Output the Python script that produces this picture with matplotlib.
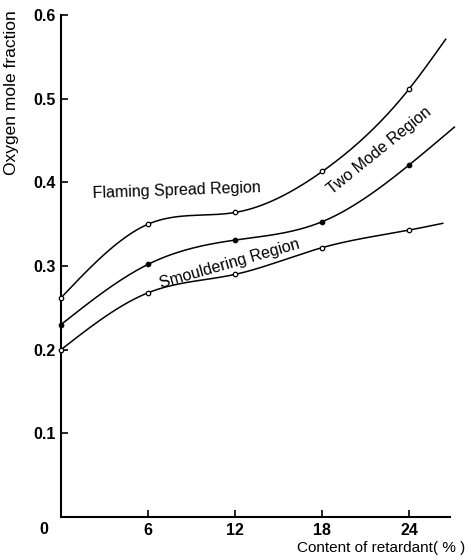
import numpy as np
import matplotlib
matplotlib.use("Agg")
import matplotlib.pyplot as plt

plt.rcParams['font.family'] = ['Liberation Sans', 'DejaVu Sans']

# content of retardant (%) and oxygen mole fraction
x_pts = [0, 6, 12, 18, 24]
flaming = [0.262, 0.350, 0.364, 0.413, 0.512]
two_mode = [0.230, 0.302, 0.331, 0.353, 0.421]
smoulder = [0.200, 0.268, 0.290, 0.322, 0.343]
# where each drawn curve stops on the right
flaming_end = (26.5, 0.571)
two_mode_end = (27.1, 0.466)
smoulder_end = (26.3, 0.351)

x_ticks = [6, 12, 18, 24]
y_ticks = [0.1, 0.2, 0.3, 0.4, 0.5, 0.6]


def spline(xs, ys, n=200):
    # natural cubic spline, only for drawing a smooth line through the points
    xs = np.asarray(xs, float)
    ys = np.asarray(ys, float)
    k = len(xs)
    h = np.diff(xs)
    A = np.zeros((k, k))
    r = np.zeros(k)
    A[0, 0] = A[-1, -1] = 1
    for i in range(1, k - 1):
        A[i, i - 1] = h[i - 1]
        A[i, i] = 2 * (h[i - 1] + h[i])
        A[i, i + 1] = h[i]
        r[i] = 3 * ((ys[i + 1] - ys[i]) / h[i] - (ys[i] - ys[i - 1]) / h[i - 1])
    c = np.linalg.solve(A, r)
    xx = np.linspace(xs[0], xs[-1], n)
    idx = np.clip(np.searchsorted(xs, xx) - 1, 0, k - 2)
    d = xx - xs[idx]
    b = (ys[1:] - ys[:-1]) / h - h * (2 * c[:-1] + c[1:]) / 3
    dd = (c[1:] - c[:-1]) / (3 * h)
    yy = ys[idx] + b[idx] * d + c[idx] * d ** 2 + dd[idx] * d ** 3
    return xx, yy


fig = plt.figure(figsize=(4.71, 5.60), dpi=100)
ax = fig.add_axes([61 / 471, 1 - 517 / 560, 389 / 471, 502 / 560])

series = [(flaming, flaming_end, 'white'),
          (two_mode, two_mode_end, 'black'),
          (smoulder, smoulder_end, 'white')]
for ys, end, face in series:
    xx, yy = spline(x_pts + [end[0]], ys + [end[1]])
    ax.plot(xx, yy, color='black', lw=1.1, clip_on=False)
    ax.plot(x_pts, ys, 'o', ms=3.2, mfc=face, mec='black', mew=0.9,
            clip_on=False, zorder=3)

ax.set_xlim(0, 26.8)
ax.set_ylim(0, 0.6)
ax.spines['top'].set_visible(False)
ax.spines['right'].set_visible(False)
ax.spines['left'].set_linewidth(1.5)
ax.spines['bottom'].set_linewidth(1.5)
ax.set_xticks(x_ticks)
ax.set_yticks(y_ticks)
ax.set_xticklabels([str(v) for v in x_ticks], fontsize=11.5, fontweight='bold')
ax.set_yticklabels(['%.1f' % v for v in y_ticks], fontsize=11.5, fontweight='bold')
ax.tick_params(direction='in', length=5, width=1.2, pad=4)
ax.text(-0.045, -0.025, '0', transform=ax.transAxes, ha='center', va='center',
        fontsize=11.5, fontweight='bold')

ax.text(8.0, 0.39, 'Flaming Spread Region', fontsize=11.5, ha='center',
        va='center', rotation=2)
ax.text(11.6, 0.303, 'Smouldering Region', fontsize=11.5, ha='center',
        va='center', rotation=16, rotation_mode='anchor')
ax.text(21.9, 0.438, 'Two Mode Region', fontsize=11.5, ha='center',
        va='center', rotation=39, rotation_mode='anchor')

fig.text(12 / 471, 1 - 10 / 560, 'Oxygen mole fraction', rotation=90,
         ha='center', va='top', fontsize=12.5)
fig.text(465 / 471, 1 - 548 / 560, 'Content of retardant( % )', ha='right',
         va='center', fontsize=11)

fig.savefig('out.png', dpi=100)
